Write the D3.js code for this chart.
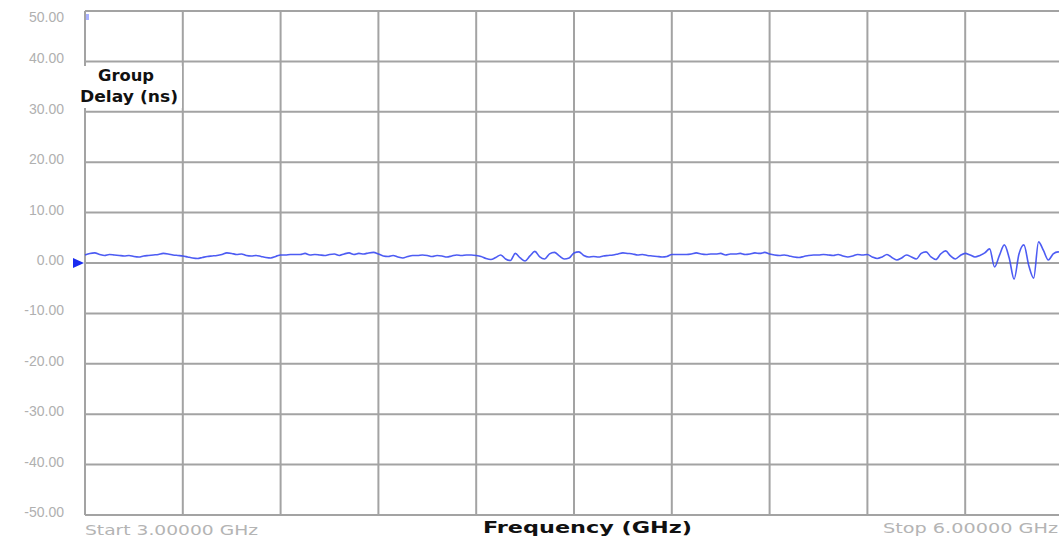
<!DOCTYPE html>
<html>
<head>
<meta charset="utf-8">
<script src="https://cdn.jsdelivr.net/npm/d3@7"></script>
<style>
  html, body { margin: 0; padding: 0; background: #fff; overflow: hidden; }
  svg { display: block; }
</style>
</head>
<body>
<svg id="chart" width="1059" height="541"></svg>
<script>
// Sweep definition (GHz)
const sweepStart = 3.0;
const sweepStop = 6.0;

// Y-axis tick values (ns)
const yTicks = [50, 40, 30, 20, 10, 0, -10, -20, -30, -40, -50];
// X-axis divisions (GHz)
const xTicks = [3.0, 3.3, 3.6, 3.9, 4.2, 4.5, 4.8, 5.1, 5.4, 5.7, 6.0];

// Measured group delay (ns), 201 equally spaced sweep points
const groupDelay = [
  1.6, 1.9, 2.0, 1.7, 1.5, 1.7, 1.6, 1.5, 1.4, 1.5,
  1.3, 1.2, 1.4, 1.5, 1.6, 1.7, 1.9, 1.8, 1.6, 1.5,
  1.4, 1.2, 1.0, 0.9, 1.1, 1.3, 1.4, 1.5, 1.7, 2.0,
  1.9, 1.7, 1.8, 1.5, 1.4, 1.5, 1.3, 1.1, 1.0, 1.3,
  1.6, 1.6, 1.7, 1.7, 1.7, 1.9, 1.6, 1.7, 1.6, 1.5,
  1.7, 1.8, 1.5, 1.8, 2.0, 1.7, 1.9, 1.8, 2.0, 2.1,
  1.8, 1.4, 1.3, 1.5, 1.2, 1.0, 1.3, 1.5, 1.5, 1.6,
  1.5, 1.3, 1.5, 1.4, 1.2, 1.4, 1.6, 1.5, 1.6, 1.6,
  1.5, 1.3, 0.9, 0.7, 1.1, 1.6, 0.8, 0.5, 1.9, 1.0,
  0.4, 1.4, 2.3, 1.2, 0.8, 1.8, 2.1, 1.4, 0.8, 1.0,
  2.0, 2.2, 1.5, 1.2, 1.3, 1.2, 1.4, 1.5, 1.6, 1.8,
  2.0, 1.9, 1.8, 1.6, 1.7, 1.5, 1.4, 1.3, 1.2, 1.3,
  1.7, 1.7, 1.7, 1.7, 1.8, 2.0, 1.8, 1.7, 1.8, 1.8,
  1.9, 1.6, 1.8, 1.8, 1.9, 1.7, 1.8, 2.0, 1.9, 2.1,
  1.8, 1.6, 1.5, 1.6, 1.4, 1.2, 1.1, 1.3, 1.5, 1.6,
  1.6, 1.7, 1.6, 1.5, 1.7, 1.4, 1.2, 1.4, 1.7, 1.6,
  1.7, 1.2, 0.9, 1.2, 1.7, 1.1, 0.6, 1.0, 1.6, 1.2,
  0.8, 1.9, 2.2, 1.2, 0.7, 1.8, 2.4, 1.4, 0.8, 1.5,
  1.9, 1.6, 1.2, 1.5, 2.0, 2.8, -0.8, 1.5, 3.6, 1.0,
  -3.2, 1.8, 3.6, -0.5, -3.0, 4.2, 2.5, 0.6, 1.8, 2.2,
  1.9
];

const svg = d3.select("#chart");

const plot = { left: 85, right: 1063, top: 11, bottom: 515 };

const x = d3.scaleLinear().domain([sweepStart, sweepStop]).range([plot.left, plot.right]);
const y = d3.scaleLinear().domain([-50, 50]).range([plot.bottom, plot.top]);
const idx = d3.scaleLinear().domain([0, groupDelay.length - 1]).range([sweepStart, sweepStop]);

const gridColor = "#a3a3a3";

// Horizontal graticule
svg.append("g").selectAll("line").data(yTicks).join("line")
  .attr("x1", plot.left).attr("x2", plot.right)
  .attr("y1", d => y(d)).attr("y2", d => y(d))
  .attr("stroke", gridColor).attr("stroke-width", 2);

// Vertical graticule
svg.append("g").selectAll("line").data(xTicks).join("line")
  .attr("x1", d => x(d)).attr("x2", d => x(d))
  .attr("y1", plot.top).attr("y2", plot.bottom)
  .attr("stroke", gridColor).attr("stroke-width", 2);

// Y tick labels
svg.append("g").selectAll("text").data(yTicks).join("text")
  .attr("x", 64)
  .attr("y", d => Math.max(y(d) + 2, 22))
  .attr("text-anchor", "end")
  .attr("font-family", "Liberation Sans, Arial, sans-serif")
  .attr("font-size", 14)
  .attr("fill", "#b0b0b0")
  .text(d => d.toFixed(2));

// Trace
const line = d3.line()
  .x((d, i) => x(idx(i)))
  .y(d => y(d))
  .curve(d3.curveMonotoneX);

svg.append("path")
  .datum(groupDelay)
  .attr("fill", "none")
  .attr("stroke", "#3a4af2")
  .attr("stroke-opacity", 0.9)
  .attr("stroke-width", 1.6)
  .attr("stroke-linejoin", "round")
  .attr("d", line);

// Reference position marker
const ry = y(0);
svg.append("path")
  .attr("d", `M${plot.left - 12},${ry - 5} L${plot.left - 1},${ry} L${plot.left - 12},${ry + 5} Z`)
  .attr("fill", "#1a2cf0");

// Small marker at the top of the trace area
svg.append("rect")
  .attr("x", plot.left + 1).attr("y", plot.top + 3)
  .attr("width", 3).attr("height", 6)
  .attr("fill", "#aab2ff");

// Y-axis title
const titleFont = "DejaVu Sans, Verdana, sans-serif";
svg.append("rect")
  .attr("x", 66).attr("y", 66).attr("width", 116).attr("height", 42)
  .attr("fill", "#fff");
svg.append("text")
  .attr("x", 126).attr("y", 81)
  .attr("text-anchor", "middle")
  .attr("font-family", titleFont).attr("font-weight", "bold")
  .attr("font-size", 16.5).attr("fill", "#111")
  .attr("textLength", 56).attr("lengthAdjust", "spacingAndGlyphs")
  .text("Group");
svg.append("text")
  .attr("x", 129).attr("y", 102)
  .attr("text-anchor", "middle")
  .attr("font-family", titleFont).attr("font-weight", "bold")
  .attr("font-size", 16.5).attr("fill", "#111")
  .attr("textLength", 98).attr("lengthAdjust", "spacingAndGlyphs")
  .text("Delay (ns)");

// X-axis title and sweep annotations
svg.append("text")
  .attr("x", 483).attr("y", 533)
  .attr("font-family", titleFont).attr("font-weight", "bold")
  .attr("font-size", 16).attr("fill", "#111")
  .attr("textLength", 209).attr("lengthAdjust", "spacingAndGlyphs")
  .text("Frequency (GHz)");

svg.append("text")
  .attr("x", 85).attr("y", 535)
  .attr("font-family", titleFont)
  .attr("font-size", 13.5).attr("fill", "#b4b4b4")
  .attr("textLength", 173).attr("lengthAdjust", "spacingAndGlyphs")
  .text(`Start ${sweepStart.toFixed(5)} GHz`);

svg.append("text")
  .attr("x", 883).attr("y", 533)
  .attr("font-family", titleFont)
  .attr("font-size", 13.5).attr("fill", "#b4b4b4")
  .attr("textLength", 175).attr("lengthAdjust", "spacingAndGlyphs")
  .text(`Stop ${sweepStop.toFixed(5)} GHz`);
</script>
</body>
</html>
